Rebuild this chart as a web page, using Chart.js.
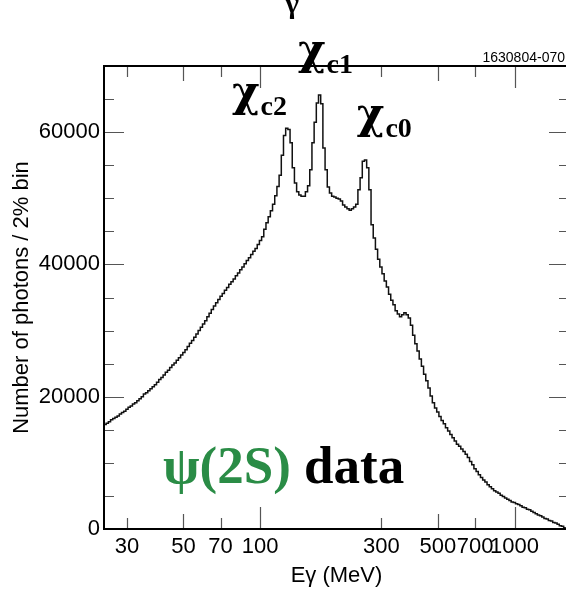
<!DOCTYPE html>
<html>
<head>
<meta charset="utf-8">
<script src="https://cdn.jsdelivr.net/npm/chart.js@4.4.1/dist/chart.umd.min.js"></script>
<style>
  html, body { margin: 0; padding: 0; background: #fff; overflow: hidden; }
  #wrap { width: 572px; height: 589px; }
</style>
</head>
<body>
<div id="wrap"><canvas id="spectrum" width="572" height="589"></canvas></div>
<script>
// photon spectrum, 2% wide bins on a log energy axis
const binStart = 24.38;   // MeV, low edge of the first bin
const binRatio = 1.02;    // 2% bins
const counts = [
  15800, 16000, 16200, 16500, 16700, 16900, 17100, 17400, 17600, 17800,
  18100, 18400, 18600, 18900, 19100, 19400, 19700, 20000, 20400, 20600,
  20900, 21200, 21500, 21800, 22200, 22600, 22900, 23300, 23700, 24000,
  24400, 24800, 25100, 25500, 25900, 26300, 26700, 27100, 27600, 28100,
  28500, 29000, 29500, 30000, 30500, 31000, 31500, 32100, 32600, 33200,
  33700, 34200, 34700, 35200, 35600, 36100, 36500, 37000, 37400, 37800,
  38300, 38700, 39200, 39600, 40100, 40600, 41000, 41500, 42000, 42400,
  43000, 43600, 44200, 45300, 46300, 47200, 48100, 49100, 50400, 51800,
  53500, 56500, 59500, 60600, 60400, 58400, 54600, 52300, 51000, 50500,
  50300, 50300, 51000, 51900, 54300, 58400, 61500, 64400, 65600, 64300,
  57600, 54300, 51700, 50800, 50300, 50200, 50000, 49900, 49600, 49000,
  48700, 48400, 48200, 48400, 48700, 49100, 51300, 53100, 55600, 55800,
  54600, 51300, 46000, 44000, 42300, 40800, 39600, 38600, 37500, 36600,
  35500, 34600, 33900, 33000, 32500, 32100, 32400, 32700, 32400, 31900,
  30800, 29300, 28000, 26900, 25700, 24600, 23400, 22400, 21300, 20100,
  19100, 18300, 17700, 17000, 16400, 15900, 15300, 14800, 14300, 13800,
  13300, 12800, 12500, 12100, 11700, 11300, 10800, 10200, 9700, 9100,
  8700, 8200, 7800, 7400, 7100, 6700, 6400, 6100, 5800, 5600,
  5400, 5100, 4900, 4700, 4500, 4300, 4100, 4000, 3800, 3700,
  3500, 3300, 3200, 3000, 2900, 2700, 2500, 2300, 2100, 2000,
  1800, 1600, 1500, 1300, 1200, 1000, 900, 700, 500, 400, 200
];

const xMin = 24.38, xMax = 1637;
const yMin = 0, yMax = 70000;
const xTicks = [30, 50, 70, 100, 300, 500, 700, 1000];
const yTicks = [0, 20000, 40000, 60000];
const yMinorStep = 5000;

// peak labels: [name, subscript, energy of left edge, count at baseline]
const peakLabels = [
  ['χ', 'c2', 77.6, 64000],
  ['χ', 'c1', 141, 70300],
  ['χ', 'c0', 240, 60600]
];

const SANS = '"Liberation Sans", Arial, Helvetica, sans-serif';
const SERIF = '"Liberation Serif", "Times New Roman", serif';
const GREEK = '"DejaVu Serif", serif';

// histogram points: low edge of each bin, plus the closing edge
const points = counts.map((c, i) => ({ x: binStart * Math.pow(binRatio, i), y: c }));
points.push({ x: binStart * Math.pow(binRatio, counts.length), y: counts[counts.length - 1] });

function tickLen(v) {
  const m = Math.round(v / Math.pow(10, Math.floor(Math.log10(v) + 1e-9)));
  if (m === 1) return 22;
  if (m === 5) return 15;
  return 11;
}

const framePlugin = {
  id: 'frame',
  afterDraw(chart) {
    const { ctx, chartArea: a, scales } = chart;
    ctx.save();
    // inward tick marks
    ctx.strokeStyle = '#555';
    ctx.lineWidth = 1.2;
    ctx.beginPath();
    xTicks.forEach(v => {
      const px = Math.round(scales.x.getPixelForValue(v)) + 0.5;
      const len = tickLen(v);
      ctx.moveTo(px, a.bottom); ctx.lineTo(px, a.bottom - len);
      ctx.moveTo(px, a.top); ctx.lineTo(px, a.top + len);
    });
    for (let v = yMin + yMinorStep; v < yMax; v += yMinorStep) {
      const py = Math.round(scales.y.getPixelForValue(v)) + 0.5;
      const len = v % 20000 === 0 ? 20 : 10;
      ctx.moveTo(a.left, py); ctx.lineTo(a.left + len, py);
      ctx.moveTo(a.right, py); ctx.lineTo(a.right - len, py);
    }
    ctx.stroke();

    // frame
    ctx.strokeStyle = '#000';
    ctx.lineWidth = 2;
    ctx.strokeRect(a.left, a.top, a.right - a.left, a.bottom - a.top);

    // run number, top right
    ctx.fillStyle = '#000';
    ctx.font = '14px ' + SANS;
    ctx.textAlign = 'right';
    ctx.textBaseline = 'alphabetic';
    ctx.fillText('1630804-070', a.right - 4, a.top - 4);

    // cut-off gamma at the very top
    ctx.textAlign = 'center';
    ctx.font = 'bold 30px ' + SERIF;
    ctx.fillText('γ', scales.x.getPixelForValue(133.6), 13);

    // peak labels
    ctx.textAlign = 'left';
    peakLabels.forEach(([name, sub, e, n]) => {
      const px = scales.x.getPixelForValue(e);
      const py = scales.y.getPixelForValue(n);
      ctx.font = 'bold 42px ' + GREEK;
      ctx.fillText(name, px, py);
      const w = ctx.measureText(name).width;
      ctx.font = 'bold 28px ' + SERIF;
      ctx.fillText(sub, px + w + 1, py + 9);
    });

    // sample label
    const lx = scales.x.getPixelForValue(41.6);
    const ly = scales.y.getPixelForValue(7000);
    ctx.font = 'bold 53px ' + SERIF;
    ctx.fillStyle = '#2a8c46';
    ctx.fillText('ψ(2S)', lx, ly);
    const w2 = ctx.measureText('ψ(2S) ').width;
    ctx.fillStyle = '#000';
    ctx.fillText('data', lx + w2, ly);
    ctx.restore();
  }
};

new Chart(document.getElementById('spectrum'), {
  type: 'line',
  data: {
    datasets: [{
      data: points,
      stepped: true,
      borderColor: '#111',
      borderWidth: 1.5,
      pointRadius: 0,
      fill: false,
      tension: 0
    }]
  },
  options: {
    responsive: false,
    animation: false,
    events: [],
    layout: { padding: { top: 66, right: 3, left: 0, bottom: 0 } },
    plugins: { legend: { display: false }, tooltip: { enabled: false } },
    scales: {
      x: {
        type: 'logarithmic',
        min: xMin,
        max: xMax,
        afterBuildTicks: s => { s.ticks = xTicks.map(v => ({ value: v })); },
        afterFit: s => { s.height = 60; },
        grid: { display: false, drawTicks: false },
        border: { display: false },
        ticks: {
          autoSkip: false,
          maxRotation: 0,
          padding: 5,
          color: '#000',
          font: { family: SANS, size: 22 },
          callback: v => String(v)
        },
        title: {
          display: true,
          text: 'Eγ (MeV)',
          color: '#000',
          font: { family: SANS, size: 22 },
          padding: { top: 0, bottom: 0 }
        }
      },
      y: {
        type: 'linear',
        min: yMin,
        max: yMax,
        afterBuildTicks: s => { s.ticks = yTicks.map(v => ({ value: v })); },
        afterFit: s => { s.width = 104; },
        grid: { display: false, drawTicks: false },
        border: { display: false },
        ticks: {
          padding: 4,
          color: '#000',
          font: { family: SANS, size: 22 },
          callback: v => String(v)
        },
        title: {
          display: true,
          text: 'Number of photons / 2% bin',
          color: '#000',
          font: { family: SANS, size: 22 },
          padding: { top: 9, bottom: 0 }
        }
      }
    }
  },
  plugins: [framePlugin]
});
</script>
</body>
</html>
